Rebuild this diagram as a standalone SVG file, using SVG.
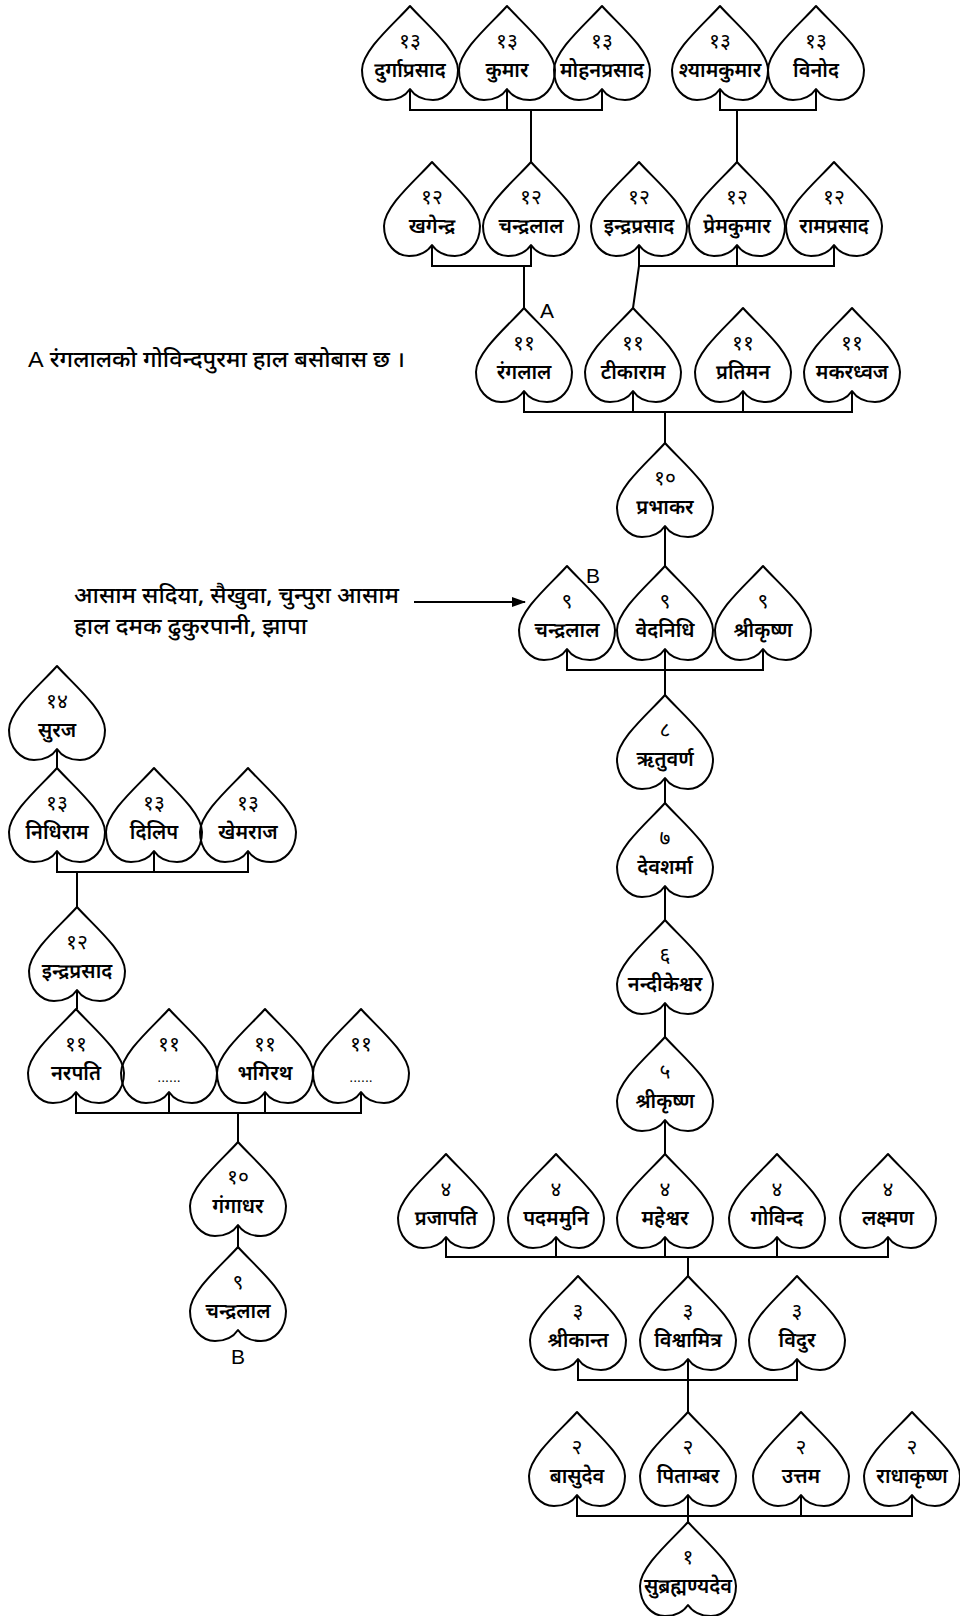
<svg xmlns="http://www.w3.org/2000/svg" xmlns:xlink="http://www.w3.org/1999/xlink" width="960" height="1616" viewBox="0 0 960 1616">
<style>
.leaf{fill:none;stroke:#000;stroke-width:2;stroke-linejoin:round}
.num{font-family:"Noto Sans Devanagari","Noto Sans",sans-serif;font-size:21px;text-anchor:middle;fill:#000}
.nm{font-family:"Noto Sans Devanagari","Noto Sans",sans-serif;font-size:20px;font-weight:600;text-anchor:middle;fill:#000}
.dots{font-family:"Liberation Sans",sans-serif;font-size:14px;text-anchor:middle;fill:#000}
.lat{font-family:"Liberation Sans",Arial,sans-serif;font-size:21px;fill:#000}
.note{font-family:"Noto Sans Devanagari","Noto Sans",sans-serif;font-size:22px;font-weight:500;fill:#000}
.con{fill:none;stroke:#000;stroke-width:2}
</style>
<defs>
<path id="leaf" class="leaf" d="M0,0 C-14,16 -48,44 -48,64 C-48,82 -36,94 -23,94 C-12,94 -4,89 0,83 C4,89 12,94 23,94 C36,94 48,82 48,64 C48,44 14,16 0,0 Z"/>
<marker id="arr" markerWidth="14" markerHeight="10" refX="13" refY="5" orient="auto" markerUnits="userSpaceOnUse">
<path d="M0,0 L14,5 L0,10 Z" fill="#000"/>
</marker>
</defs>
<rect width="960" height="1616" fill="#fff"/>

<g id="connectors">
<path class="con" d="M410,89 V110 H602 V89 M507,89 V110 M531,110 V162"/>
<path class="con" d="M720,89 V110 H816 V89 M737,110 V162"/>
<path class="con" d="M432,245 V266 H531 V245 M524,266 V308"/>
<path class="con" d="M639,245 V266 H834 V245 M737,245 V266 M639,266 L633,308"/>
<path class="con" d="M524,391 V412 H852 V391 M633,391 V412 M743,391 V412 M665,412 V443"/>
<path class="con" d="M665,526 V566"/>
<path class="con" d="M567,649 V670 H763 V649 M665,649 V695"/>
<path class="con" d="M665,778 V803 M665,886 V920 M665,1003 V1037 M665,1120 V1154"/>
<path class="con" d="M446,1237 V1257 H888 V1237 M556,1237 V1257 M665,1237 V1257 M777,1237 V1257 M688,1257 V1276"/>
<path class="con" d="M578,1359 V1380 H797 V1359 M688,1359 V1412"/>
<path class="con" d="M577,1495 V1516 H912 V1495 M688,1495 V1522 M801,1495 V1516"/>
<path class="con" d="M57,749 V768"/>
<path class="con" d="M57,851 V872 H248 V851 M154,851 V872 M77,872 V907"/>
<path class="con" d="M77,990 V1009"/>
<path class="con" d="M76,1092 V1113 H361 V1092 M169,1092 V1113 M265,1092 V1113 M238,1113 V1142"/>
<path class="con" d="M238,1225 V1247"/>
<line class="con" x1="414" y1="602" x2="525" y2="602" marker-end="url(#arr)"/>
</g>

<g id="n13a" transform="translate(410,6)"><use href="#leaf"/><text class="num" y="42">१३</text><text class="nm" y="71">दुर्गाप्रसाद</text></g>
<g id="n13b" transform="translate(507,6)"><use href="#leaf"/><text class="num" y="42">१३</text><text class="nm" y="71">कुमार</text></g>
<g id="n13c" transform="translate(602,6)"><use href="#leaf"/><text class="num" y="42">१३</text><text class="nm" y="71">मोहनप्रसाद</text></g>
<g id="n13d" transform="translate(720,6)"><use href="#leaf"/><text class="num" y="42">१३</text><text class="nm" y="71">श्यामकुमार</text></g>
<g id="n13e" transform="translate(816,6)"><use href="#leaf"/><text class="num" y="42">१३</text><text class="nm" y="71">विनोद</text></g>

<g id="n12a" transform="translate(432,162)"><use href="#leaf"/><text class="num" y="42">१२</text><text class="nm" y="71">खगेन्द्र</text></g>
<g id="n12b" transform="translate(531,162)"><use href="#leaf"/><text class="num" y="42">१२</text><text class="nm" y="71">चन्द्रलाल</text></g>
<g id="n12c" transform="translate(639,162)"><use href="#leaf"/><text class="num" y="42">१२</text><text class="nm" y="71">इन्द्रप्रसाद</text></g>
<g id="n12d" transform="translate(737,162)"><use href="#leaf"/><text class="num" y="42">१२</text><text class="nm" y="71">प्रेमकुमार</text></g>
<g id="n12e" transform="translate(834,162)"><use href="#leaf"/><text class="num" y="42">१२</text><text class="nm" y="71">रामप्रसाद</text></g>

<g id="n11a" transform="translate(524,308)"><use href="#leaf"/><text class="num" y="42">११</text><text class="nm" y="71">रंगलाल</text></g>
<g id="n11b" transform="translate(633,308)"><use href="#leaf"/><text class="num" y="42">११</text><text class="nm" y="71">टीकाराम</text></g>
<g id="n11c" transform="translate(743,308)"><use href="#leaf"/><text class="num" y="42">११</text><text class="nm" y="71">प्रतिमन</text></g>
<g id="n11d" transform="translate(852,308)"><use href="#leaf"/><text class="num" y="42">११</text><text class="nm" y="71">मकरध्वज</text></g>

<g id="n10" transform="translate(665,443)"><use href="#leaf"/><text class="num" y="42">१०</text><text class="nm" y="71">प्रभाकर</text></g>

<g id="n9a" transform="translate(567,566)"><use href="#leaf"/><text class="num" y="42">९</text><text class="nm" y="71">चन्द्रलाल</text></g>
<g id="n9b" transform="translate(665,566)"><use href="#leaf"/><text class="num" y="42">९</text><text class="nm" y="71">वेदनिधि</text></g>
<g id="n9c" transform="translate(763,566)"><use href="#leaf"/><text class="num" y="42">९</text><text class="nm" y="71">श्रीकृष्ण</text></g>

<g id="n8" transform="translate(665,695)"><use href="#leaf"/><text class="num" y="42">८</text><text class="nm" y="71">ऋतुवर्ण</text></g>
<g id="n7" transform="translate(665,803)"><use href="#leaf"/><text class="num" y="42">७</text><text class="nm" y="71">देवशर्मा</text></g>
<g id="n6" transform="translate(665,920)"><use href="#leaf"/><text class="num" y="42">६</text><text class="nm" y="71">नन्दीकेश्वर</text></g>
<g id="n5" transform="translate(665,1037)"><use href="#leaf"/><text class="num" y="42">५</text><text class="nm" y="71">श्रीकृष्ण</text></g>

<g id="n4a" transform="translate(446,1154)"><use href="#leaf"/><text class="num" y="42">४</text><text class="nm" y="71">प्रजापति</text></g>
<g id="n4b" transform="translate(556,1154)"><use href="#leaf"/><text class="num" y="42">४</text><text class="nm" y="71">पदममुनि</text></g>
<g id="n4c" transform="translate(665,1154)"><use href="#leaf"/><text class="num" y="42">४</text><text class="nm" y="71">महेश्वर</text></g>
<g id="n4d" transform="translate(777,1154)"><use href="#leaf"/><text class="num" y="42">४</text><text class="nm" y="71">गोविन्द</text></g>
<g id="n4e" transform="translate(888,1154)"><use href="#leaf"/><text class="num" y="42">४</text><text class="nm" y="71">लक्ष्मण</text></g>

<g id="n3a" transform="translate(578,1276)"><use href="#leaf"/><text class="num" y="42">३</text><text class="nm" y="71">श्रीकान्त</text></g>
<g id="n3b" transform="translate(688,1276)"><use href="#leaf"/><text class="num" y="42">३</text><text class="nm" y="71">विश्वामित्र</text></g>
<g id="n3c" transform="translate(797,1276)"><use href="#leaf"/><text class="num" y="42">३</text><text class="nm" y="71">विदुर</text></g>

<g id="n2a" transform="translate(577,1412)"><use href="#leaf"/><text class="num" y="42">२</text><text class="nm" y="71">बासुदेव</text></g>
<g id="n2b" transform="translate(688,1412)"><use href="#leaf"/><text class="num" y="42">२</text><text class="nm" y="71">पिताम्बर</text></g>
<g id="n2c" transform="translate(801,1412)"><use href="#leaf"/><text class="num" y="42">२</text><text class="nm" y="71">उत्तम</text></g>
<g id="n2d" transform="translate(912,1412)"><use href="#leaf"/><text class="num" y="42">२</text><text class="nm" y="71">राधाकृष्ण</text></g>

<g id="n1" transform="translate(688,1522)"><use href="#leaf"/><text class="num" y="42">१</text><text class="nm" y="71">सुब्रह्मण्यदेव</text></g>

<g id="L14" transform="translate(57,666)"><use href="#leaf"/><text class="num" y="42">१४</text><text class="nm" y="71">सुरज</text></g>
<g id="L13a" transform="translate(57,768)"><use href="#leaf"/><text class="num" y="42">१३</text><text class="nm" y="71">निधिराम</text></g>
<g id="L13b" transform="translate(154,768)"><use href="#leaf"/><text class="num" y="42">१३</text><text class="nm" y="71">दिलिप</text></g>
<g id="L13c" transform="translate(248,768)"><use href="#leaf"/><text class="num" y="42">१३</text><text class="nm" y="71">खेमराज</text></g>
<g id="L12" transform="translate(77,907)"><use href="#leaf"/><text class="num" y="42">१२</text><text class="nm" y="71">इन्द्रप्रसाद</text></g>
<g id="L11a" transform="translate(76,1009)"><use href="#leaf"/><text class="num" y="42">११</text><text class="nm" y="71">नरपति</text></g>
<g id="L11b" transform="translate(169,1009)"><use href="#leaf"/><text class="num" y="42">११</text><text class="dots" y="73">......</text></g>
<g id="L11c" transform="translate(265,1009)"><use href="#leaf"/><text class="num" y="42">११</text><text class="nm" y="71">भगिरथ</text></g>
<g id="L11d" transform="translate(361,1009)"><use href="#leaf"/><text class="num" y="42">११</text><text class="dots" y="73">......</text></g>
<g id="L10" transform="translate(238,1142)"><use href="#leaf"/><text class="num" y="42">१०</text><text class="nm" y="71">गंगाधर</text></g>
<g id="L9" transform="translate(238,1247)"><use href="#leaf"/><text class="num" y="42">९</text><text class="nm" y="71">चन्द्रलाल</text></g>

<g id="labels">
<text class="lat" x="540" y="318">A</text>
<text class="lat" x="586" y="583">B</text>
<text class="lat" x="238" y="1364" text-anchor="middle">B</text>
<text class="note" x="28" y="367" textLength="377" lengthAdjust="spacingAndGlyphs"><tspan font-family="Liberation Sans" font-weight="normal">A</tspan> रंगलालको गोविन्दपुरमा हाल बसोबास छ ।</text>
<text class="note" x="74" y="603" textLength="325" lengthAdjust="spacingAndGlyphs">आसाम सदिया, सैखुवा, चुन्पुरा आसाम</text>
<text class="note" x="74" y="634" textLength="233" lengthAdjust="spacingAndGlyphs">हाल दमक ढुकुरपानी, झापा</text>
</g>
</svg>
